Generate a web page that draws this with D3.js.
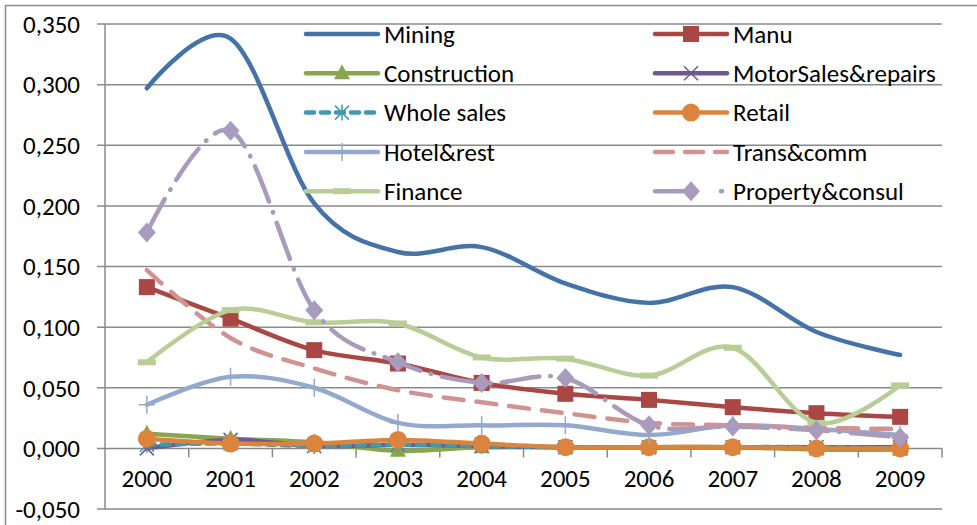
<!DOCTYPE html>
<html>
<head>
<meta charset="utf-8">
<script src="https://cdn.jsdelivr.net/npm/d3@7"></script>
<style>
  body { margin: 0; background: #fff; }
  svg { display: block; font-family: Carlito, "Liberation Sans", sans-serif; }
</style>
</head>
<body>
<div id="chart"></div>
<script>
var years = ["2000","2001","2002","2003","2004","2005","2006","2007","2008","2009"];
var yTicks = [-0.05, 0, 0.05, 0.1, 0.15, 0.2, 0.25, 0.3, 0.35];

var mining       = [0.297, 0.338, 0.202, 0.162, 0.166, 0.136, 0.120, 0.133, 0.096, 0.077];
var manu         = [0.133, 0.107, 0.081, 0.070, 0.054, 0.045, 0.040, 0.034, 0.029, 0.026];
var construction = [0.012, 0.008, 0.005, -0.002, 0.001, 0.001, 0.001, 0.001, -0.001, -0.001];
var motorSales   = [0.000, 0.007, 0.002, 0.003, 0.002, 0.001, 0.001, 0.001, 0.001, 0.001];
var wholeSales   = [0.003, 0.004, 0.002, 0.003, 0.002, 0.001, 0.001, 0.001, 0.001, 0.000];
var retail       = [0.008, 0.004, 0.004, 0.007, 0.004, 0.001, 0.001, 0.001, 0.000, 0.000];
var hotelRest    = [0.036, 0.059, 0.050, 0.021, 0.019, 0.019, 0.011, 0.019, 0.016, 0.011];
var transComm    = [0.147, 0.091, 0.066, 0.048, 0.038, 0.029, 0.021, 0.019, 0.017, 0.016];
var finance      = [0.071, 0.114, 0.104, 0.103, 0.075, 0.074, 0.060, 0.083, 0.021, 0.052];
var property     = [0.178, 0.262, 0.114, 0.071, 0.054, 0.058, 0.019, 0.018, 0.015, 0.009];

var series = [
  {name: "Mining", values: mining, color: "#4572A7", dash: null, marker: null},
  {name: "Manu", values: manu, color: "#AA4643", dash: null, marker: "square"},
  {name: "Construction", values: construction, color: "#89A54E", dash: null, marker: "triangle"},
  {name: "MotorSales&repairs", values: motorSales, color: "#71588F", dash: null, marker: "x"},
  {name: "Whole sales", values: wholeSales, color: "#4198AF", dash: "8,7", marker: "star"},
  {name: "Retail", values: retail, color: "#DB843D", dash: null, marker: "circle"},
  {name: "Hotel&rest", values: hotelRest, color: "#93A9CF", dash: null, marker: "plus"},
  {name: "Trans&comm", values: transComm, color: "#D19392", dash: "20,13", marker: null},
  {name: "Finance", values: finance, color: "#B9CD96", dash: null, marker: "dash"},
  {name: "Property&consul", values: property, color: "#A99BBD", dash: "38,11,0.5,11", marker: "diamond"}
];

var width = 977, height = 525;
var plotL = 105, plotR = 942, plotT = 24, plotB = 509;
var fontSize = 25;

var svg = d3.select("#chart").append("svg")
  .attr("width", width)
  .attr("height", height);

// chart area border (only left / top visible)
svg.append("rect")
  .attr("x", 5.5).attr("y", 5.5)
  .attr("width", 1000).attr("height", 1000)
  .attr("fill", "none")
  .attr("stroke", "#8c8c8c")
  .attr("stroke-width", 1.5);

var x = d3.scalePoint().domain(years).range([plotL, plotR]).padding(0.5);
var y = d3.scaleLinear().domain([-0.05, 0.35]).range([plotB, plotT]);

var loc = d3.formatLocale({decimal: ",", thousands: ".", grouping: [3], currency: ["", ""], minus: "-"});
var fmt = loc.format(".3f");

// gridlines
svg.append("g")
  .selectAll("line")
  .data(yTicks)
  .enter().append("line")
  .attr("x1", plotL - 8).attr("x2", plotR)
  .attr("y1", function(d) { return y(d); })
  .attr("y2", function(d) { return y(d); })
  .attr("stroke", "#8a8a8a")
  .attr("stroke-width", 1.5);

// y axis line + labels
svg.append("line")
  .attr("x1", plotL).attr("x2", plotL)
  .attr("y1", plotT).attr("y2", plotB)
  .attr("stroke", "#8a8a8a").attr("stroke-width", 1.5);

svg.append("g")
  .selectAll("text")
  .data(yTicks)
  .enter().append("text")
  .attr("x", 80)
  .attr("y", function(d) { return y(d); })
  .attr("dy", "0.35em")
  .attr("text-anchor", "end")
  .attr("font-size", fontSize)
  .attr("fill", "#000")
  .text(function(d) { return fmt(d); });

// x axis at zero, ticks between categories
var step = x.step();
var bounds = d3.range(years.length + 1).map(function(i) { return plotL + i * step; });
svg.append("g")
  .selectAll("line")
  .data(bounds.slice(1))
  .enter().append("line")
  .attr("x1", function(d) { return d; }).attr("x2", function(d) { return d; })
  .attr("y1", y(0)).attr("y2", y(0) + 9)
  .attr("stroke", "#8a8a8a").attr("stroke-width", 1.5);

svg.append("g")
  .selectAll("text")
  .data(years)
  .enter().append("text")
  .attr("x", function(d) { return x(d); })
  .attr("y", 478)
  .attr("dy", "0.35em")
  .attr("text-anchor", "middle")
  .attr("font-size", fontSize)
  .text(function(d) { return d; });

// markers
function drawMarker(g, type, color, cx, cy) {
  if (type === "square") {
    g.append("rect").attr("x", cx - 8).attr("y", cy - 8).attr("width", 16).attr("height", 16)
      .attr("fill", color);
  } else if (type === "triangle") {
    g.append("path").attr("d", "M" + cx + "," + (cy - 9) + "L" + (cx + 8) + "," + (cy + 6) + "L" + (cx - 8) + "," + (cy + 6) + "Z")
      .attr("fill", color);
  } else if (type === "x") {
    g.append("path").attr("d", "M" + (cx - 7) + "," + (cy - 7) + "L" + (cx + 7) + "," + (cy + 7) + "M" + (cx + 7) + "," + (cy - 7) + "L" + (cx - 7) + "," + (cy + 7))
      .attr("stroke", color).attr("stroke-width", 1.5);
  } else if (type === "star") {
    g.append("path").attr("d", "M" + (cx - 7) + "," + (cy - 7) + "L" + (cx + 7) + "," + (cy + 7) + "M" + (cx + 7) + "," + (cy - 7) + "L" + (cx - 7) + "," + (cy + 7) + "M" + cx + "," + (cy - 8) + "L" + cx + "," + (cy + 8))
      .attr("stroke", color).attr("stroke-width", 1.5);
  } else if (type === "circle") {
    g.append("circle").attr("cx", cx).attr("cy", cy).attr("r", 9).attr("fill", color);
  } else if (type === "plus") {
    g.append("path").attr("d", "M" + (cx - 8) + "," + cy + "L" + (cx + 8) + "," + cy + "M" + cx + "," + (cy - 9) + "L" + cx + "," + (cy + 9))
      .attr("stroke", color).attr("stroke-width", 1.5);
  } else if (type === "dash") {
    g.append("line").attr("x1", cx - 9).attr("x2", cx + 9).attr("y1", cy).attr("y2", cy)
      .attr("stroke", color).attr("stroke-width", 6);
  } else if (type === "diamond") {
    g.append("path").attr("d", "M" + cx + "," + (cy - 10) + "L" + (cx + 9) + "," + cy + "L" + cx + "," + (cy + 10) + "L" + (cx - 9) + "," + cy + "Z")
      .attr("fill", color);
  }
}

var line = d3.line()
  .x(function(d, i) { return x(years[i]); })
  .y(function(d) { return y(d); })
  .curve(d3.curveCatmullRom.alpha(0));

series.forEach(function(s) {
  var g = svg.append("g");
  g.append("path")
    .attr("d", line(s.values))
    .attr("fill", "none")
    .attr("stroke", s.color)
    .attr("stroke-width", 4.5)
    .attr("stroke-linecap", "round")
    .attr("stroke-linejoin", "round")
    .attr("stroke-dasharray", s.dash);
  if (s.marker) {
    s.values.forEach(function(v, i) {
      drawMarker(g, s.marker, s.color, x(years[i]), y(v));
    });
  }
});

// legend
var legend = svg.append("g");
series.forEach(function(s, i) {
  var col = i % 2, row = Math.floor(i / 2);
  var x0 = col === 0 ? 306 : 655;
  var ly = 34 + row * 39.3;
  var g = legend.append("g");
  g.append("line")
    .attr("x1", x0).attr("x2", x0 + 72)
    .attr("y1", ly).attr("y2", ly)
    .attr("stroke", s.color)
    .attr("stroke-width", 4.5)
    .attr("stroke-linecap", "round")
    .attr("stroke-dasharray", s.marker === "diamond" ? "36,30,1,12" : (s.dash === "20,13" ? "18,12" : s.dash));
  if (s.marker) drawMarker(g, s.marker, s.color, x0 + 36, ly);
  g.append("text")
    .attr("x", x0 + 78)
    .attr("y", ly)
    .attr("dy", "0.35em")
    .attr("font-size", fontSize)
    .text(s.name);
});
</script>
</body>
</html>
